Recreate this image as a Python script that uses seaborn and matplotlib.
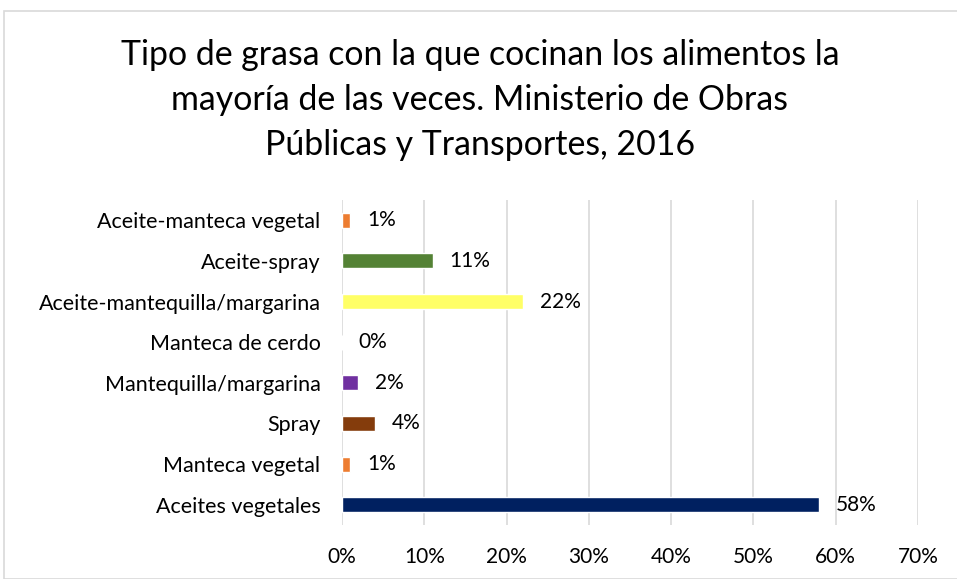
import matplotlib
matplotlib.use("Agg")
import matplotlib.pyplot as plt
import seaborn as sns
import pandas as pd
from matplotlib.patches import Rectangle

categories = ["Aceite-manteca vegetal", "Aceite-spray", "Aceite-mantequilla/margarina",
              "Manteca de cerdo", "Mantequilla/margarina", "Spray", "Manteca vegetal",
              "Aceites vegetales"]
values = [0.01, 0.11, 0.22, 0.00, 0.02, 0.04, 0.01, 0.58]
labels = ["1%", "11%", "22%", "0%", "2%", "4%", "1%", "58%"]
colors = ["#ED7D31", "#548235", "#FFFF66", "#A5A5A5", "#7030A0", "#843C0C", "#ED7D31", "#002060"]
xticks = [0, 0.1, 0.2, 0.3, 0.4, 0.5, 0.6, 0.7]
xticklabels = ["0%", "10%", "20%", "30%", "40%", "50%", "60%", "70%"]
title = "Tipo de grasa con la que cocinan los alimentos la\nmayoría de las veces. Ministerio de Obras\nPúblicas y Transportes, 2016"

sns.set_style("white")
plt.rcParams['font.family'] = ['Lato', 'DejaVu Sans']

df = pd.DataFrame({"cat": categories, "val": values})

fig = plt.figure(figsize=(9.57, 5.79), dpi=100)
fig.patches.append(Rectangle((4/957, 0), 1, 1 - 11/579, transform=fig.transFigure,
                             fill=False, edgecolor="#D9D9D9", linewidth=1.2, zorder=0))

ax = fig.add_axes([342/957, 1 - 525/579, (918 - 342)/957, 325/579])
sns.barplot(data=df, y="cat", x="val", hue="cat", palette=colors, order=categories,
            hue_order=categories, width=0.37, legend=False, ax=ax, saturation=1)

ax.set_xlim(0, 0.70)
ax.set_ylim(len(categories) - 0.5, -0.5)
ax.set_xticks(xticks)
ax.set_xticklabels(xticklabels, fontsize=15, color="#000000")
ax.tick_params(axis="y", labelsize=15.5, length=0, pad=15.5, labelcolor="#000000")
ax.tick_params(axis="x", length=0, pad=16)
ax.set_xlabel("")
ax.set_ylabel("")
for s in ax.spines.values():
    s.set_visible(False)
ax.grid(axis="x", color="#D9D9D9", linewidth=1.2)
ax.set_axisbelow(True)

for i, (v, lab) in enumerate(zip(values, labels)):
    ax.annotate(lab, xy=(v, i), xytext=(12, 0), textcoords="offset points",
                va="center", ha="left", fontsize=15, color="#000000")

fig.text(480/957, 1 - 100/579, title, ha="center", va="center", fontsize=24.4,
         color="#000000", linespacing=1.49)

fig.savefig("out.png", dpi=100)
